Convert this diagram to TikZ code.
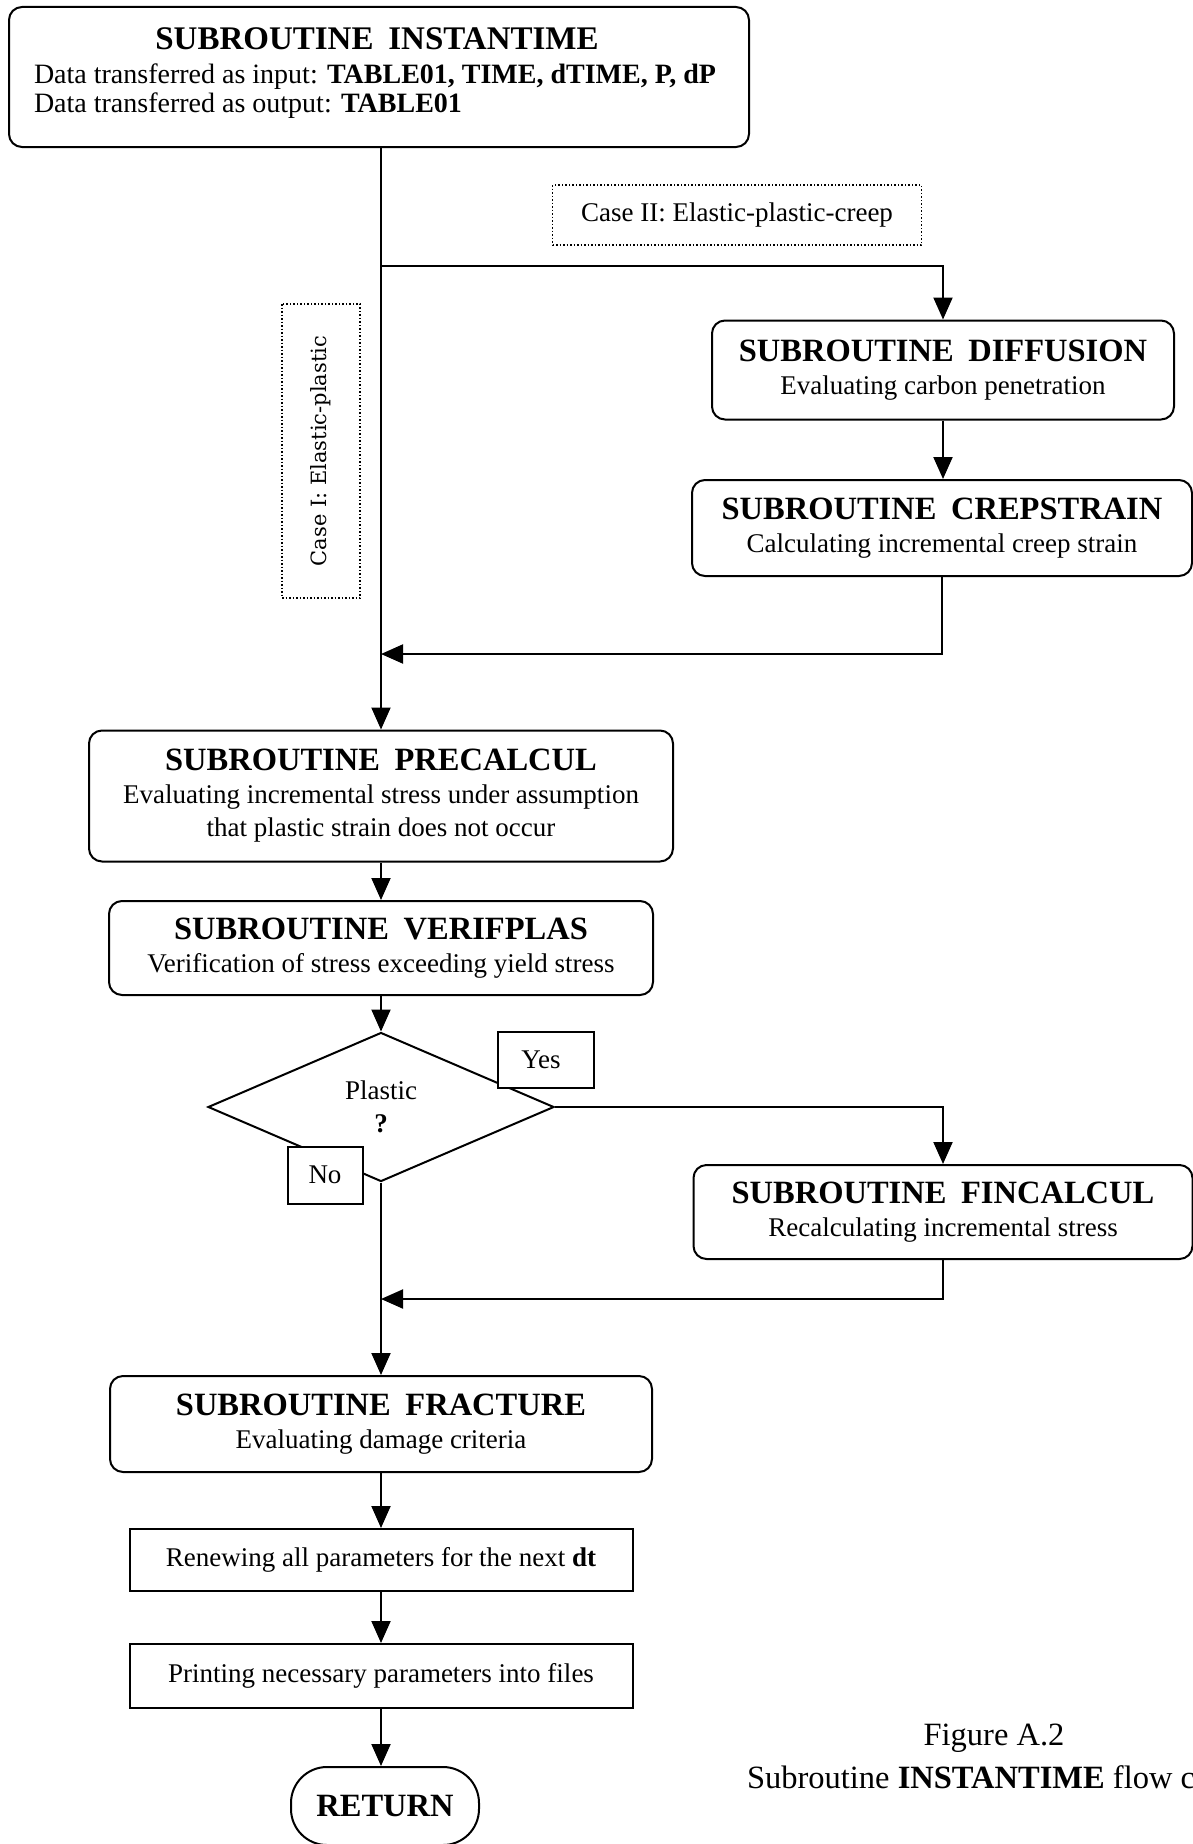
\documentclass[tikz,border=0pt]{standalone}
\usepackage{fontspec}
\setmainfont{Liberation Serif}
\newfontfamily\dvserif{DejaVu Serif}
\usetikzlibrary{shapes.geometric,arrows.meta}
\newcommand\subttl[1]{{\bfseries\fontsize{32.5}{33}\selectfont #1}}
\newcommand\gapsp{\hspace{.45em}}
\begin{document}
\begin{tikzpicture}[x=1pt,y=-1pt,
  line width=2pt,
  >={Triangle[length=22pt,width=19pt]},
  txt/.style={inner sep=0pt,font=\fontsize{28}{33}\selectfont},
  subbox/.style={draw,rounded corners=13pt,align=center,inner sep=0pt,font=\fontsize{27}{33}\selectfont},
  plainbox/.style={draw,align=center,inner sep=0pt,font=\fontsize{27}{33}\selectfont},
  casebox/.style={draw,dotted,line width=1.5pt,inner sep=0pt,font=\fontsize{27}{33}\selectfont},
  caption/.style={inner sep=0pt,font=\fontsize{32.5}{36}\selectfont},
]
\useasboundingbox (0,0) rectangle (1193,1844);
\clip (0,0) rectangle (1193,1844);

% top box
\node[subbox, minimum width=740pt, minimum height=140pt] (top) at (379,77) {};
\node[inner sep=0pt,font=\bfseries\fontsize{33}{33}\selectfont] (topt) at (377,39) {SUBROUTINE\gapsp INSTANTIME};
\node[txt, anchor=west] (topin) at (33,77) {Data transferred as input: \textbf{TABLE01, TIME, dTIME, P, dP}};
\node[txt, anchor=west] (topout) at (33,106) {Data transferred as output: \textbf{TABLE01}};

% case labels
\node[casebox, minimum width=369pt, minimum height=60pt] (c2) at (737,215) {Case II: Elastic-plastic-creep};
\node[casebox, rotate=90, minimum width=294pt, minimum height=78pt, font=\dvserif\fontsize{21}{25}\selectfont] (c1) at (321,451) {Case I: Elastic-plastic};

% right branch
\node[subbox, minimum width=462pt, minimum height=99pt] (diff) at (943,370) {\subttl{SUBROUTINE\gapsp DIFFUSION}\\Evaluating carbon penetration};
\node[subbox, minimum width=500pt, minimum height=96pt] (crep) at (942,528) {\subttl{SUBROUTINE\gapsp CREPSTRAIN}\\Calculating incremental creep strain};

% main column
\node[subbox, minimum width=584pt, minimum height=131pt] (prec) at (381,796) {\subttl{SUBROUTINE\gapsp PRECALCUL}\\Evaluating incremental stress under assumption\\that plastic strain does not occur};
\node[subbox, minimum width=544pt, minimum height=94pt] (verif) at (381,948) {\subttl{SUBROUTINE\gapsp VERIFPLAS}\\Verification of stress exceeding yield stress};
\node[draw, diamond, minimum width=346pt, minimum height=149pt, inner sep=0pt, align=center, font=\fontsize{27}{33}\selectfont] (dia) at (381,1107) {Plastic\\\textbf{?}};
\node[plainbox, fill=white, minimum width=96pt, minimum height=56pt] (yes) at (546,1060) {Yes\hspace{10pt}};
\node[plainbox, fill=white, minimum width=75pt, minimum height=57pt] (no) at (325,1175) {No};
\node[subbox, minimum width=499pt, minimum height=94pt] (fin) at (943,1212) {\subttl{SUBROUTINE\gapsp FINCALCUL}\\Recalculating incremental stress};
\node[subbox, minimum width=542pt, minimum height=96pt] (frac) at (381,1424) {\subttl{SUBROUTINE\gapsp FRACTURE}\\Evaluating damage criteria};
\node[plainbox, minimum width=503pt, minimum height=62pt] (renew) at (381,1560) {Renewing all parameters for the next \textbf{dt}};
\node[plainbox, minimum width=503pt, minimum height=64pt] (print) at (381,1676) {Printing necessary parameters into files};
\node[draw, rounded corners=36pt, minimum width=188pt, minimum height=78pt, inner sep=0pt, font=\bfseries\fontsize{32.5}{33}\selectfont] (ret) at (385,1806) {RETURN};

% caption
\node[caption] (figA) at (994,1738) {Figure A.2};
\node[caption, anchor=west] (figB) at (746,1777) {Subroutine \textbf{INSTANTIME} flow chart};

% connectors
\coordinate (j0) at (381,266);
\coordinate (j1) at (381,654);
\coordinate (j2) at (381,1299);
\draw[->] (top.south -| prec.north) -- (prec.north);
\draw[->] (j0) -| (diff.north);
\draw[->] (diff.south) -- (diff.south |- crep.north);
\draw[->] (crep.south) |- (j1);
\draw[->] (prec.south) -- (verif.north);
\draw[->] (verif.south) -- (dia.north);
\draw[->] (dia.east) -| (fin.north);
\draw[->] (fin.south) |- (j2);
\draw[->] (dia.south) -- (frac.north);
\draw[->] (frac.south) -- (renew.north);
\draw[->] (renew.south) -- (print.north);
\draw[->] (print.south) -- (print.south |- ret.north);
\end{tikzpicture}
\end{document}
